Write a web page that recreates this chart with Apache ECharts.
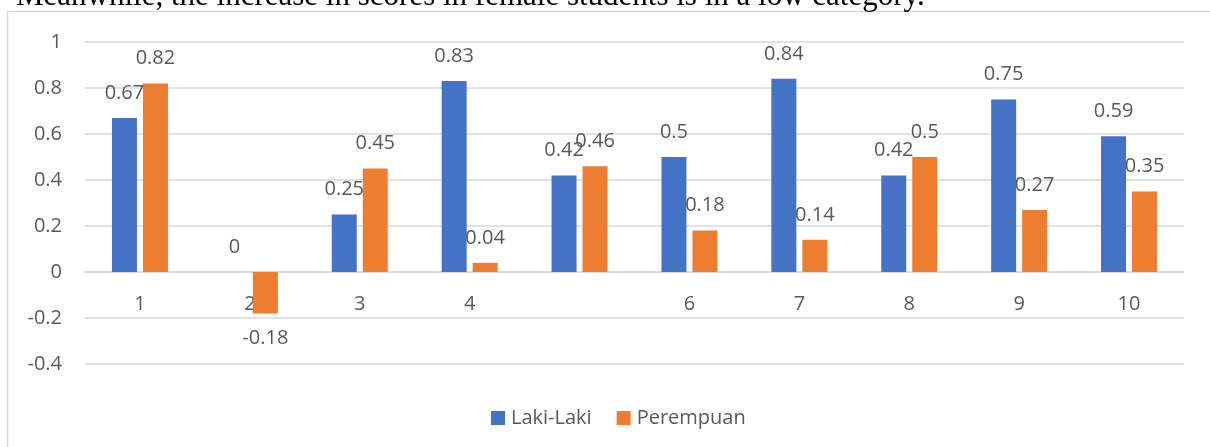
<!DOCTYPE html>
<html>
<head>
<meta charset="utf-8">
<script src="https://cdn.jsdelivr.net/npm/echarts@6/dist/echarts.min.js"></script>
<style>
  html, body { margin: 0; padding: 0; background: #fff; }
  #chart { width: 1210px; height: 447px; }
</style>
</head>
<body>
<div id="chart"></div>
<script>
// Score gains per group, by gender
const categories = ['1', '2', '3', '4', '', '6', '7', '8', '9', '10'];
const lakiLaki = [0.67, 0, 0.25, 0.83, 0.42, 0.5, 0.84, 0.42, 0.75, 0.59];
const perempuan = [0.82, -0.18, 0.45, 0.04, 0.46, 0.18, 0.14, 0.5, 0.27, 0.35];
const yTicks = { min: -0.4, max: 1, step: 0.2 };
const caption = 'Meanwhile, the increase in scores in female students is in a low category.';

const textColor = '#595959';
const gridColor = '#d9d9d9';
const uiFont = 'Open Sans';

// negative values get their label under the bar end
function withLabels(values) {
  return values.map(v => ({
    value: v,
    label: { position: v < 0 ? 'bottom' : 'top' }
  }));
}

const chart = echarts.init(document.getElementById('chart'), null, { renderer: 'canvas' });

chart.setOption({
  animation: false,
  backgroundColor: '#fff',
  graphic: [
    {
      type: 'rect',
      shape: { x: 7.5, y: 11.5, width: 1300, height: 500 },
      style: { fill: 'none', stroke: gridColor, lineWidth: 1.5 },
      silent: true
    },
    {
      type: 'text',
      style: {
        text: caption,
        x: 16,
        y: -3.5,
        font: '31px "Liberation Serif"',
        fill: '#000',
        verticalAlign: 'middle'
      },
      silent: true
    }
  ],
  grid: { left: 85, right: 26, top: 42, bottom: 83 },
  legend: {
    bottom: 14,
    left: 486,
    itemWidth: 14,
    itemHeight: 14,
    itemGap: 25,
    icon: 'rect',
    textStyle: { color: textColor, fontSize: 20, fontFamily: uiFont, padding: [0, 0, 0, 1] },
    data: ['Laki-Laki', 'Perempuan']
  },
  xAxis: {
    type: 'category',
    data: categories,
    axisLine: { onZero: true, lineStyle: { color: gridColor, width: 1.5 } },
    axisTick: { show: false },
    // category names sit just under the zero line, between 0 and -0.2
    axisLabel: { color: textColor, fontSize: 20, fontFamily: uiFont, margin: -70 }
  },
  yAxis: {
    type: 'value',
    min: yTicks.min,
    max: yTicks.max,
    interval: yTicks.step,
    axisLine: { show: false },
    axisTick: { show: false },
    splitLine: { lineStyle: { color: gridColor, width: 1.5 } },
    axisLabel: {
      color: textColor, fontSize: 20, fontFamily: uiFont, margin: 23,
      formatter: v => String(parseFloat(v.toFixed(1)))
    }
  },
  series: [
    {
      name: 'Laki-Laki',
      type: 'bar',
      data: withLabels(lakiLaki),
      barWidth: 25,
      barGap: '24%',
      itemStyle: { color: '#4472c4' },
      label: { show: true, distance: 15, color: textColor, fontSize: 20, fontFamily: uiFont }
    },
    {
      name: 'Perempuan',
      type: 'bar',
      data: withLabels(perempuan),
      barWidth: 25,
      itemStyle: { color: '#ed7d31' },
      label: { show: true, distance: 15, color: textColor, fontSize: 20, fontFamily: uiFont }
    }
  ]
});
</script>
</body>
</html>
